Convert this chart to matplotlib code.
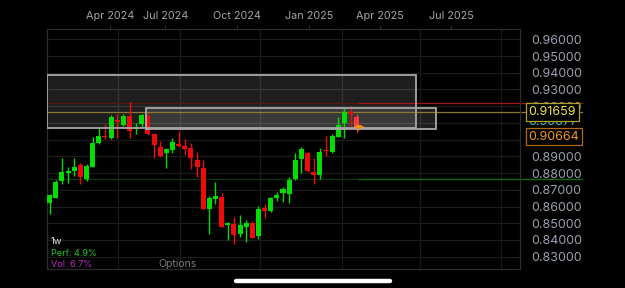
import matplotlib
matplotlib.use("Agg")
import matplotlib.pyplot as plt
from matplotlib.patches import Rectangle
from matplotlib.lines import Line2D

# ---------------- data ----------------
opens = [0.86228, 0.86527, 0.87544, 0.88023, 0.88103, 0.88462, 0.87664, 0.88382, 0.89817, 0.90216,
         0.90117, 0.91193, 0.90894, 0.91413, 0.90615, 0.90954, 0.91433, 0.90336, 0.89538, 0.89219,
         0.89379, 0.89738, 0.89638, 0.89478, 0.88781, 0.88322, 0.85869, 0.86468, 0.86547, 0.84892,
         0.84932, 0.84334, 0.84792, 0.85012, 0.84214, 0.85929, 0.85750, 0.86507, 0.86826, 0.86767,
         0.87624, 0.88840, 0.89199, 0.88083, 0.87883, 0.89379, 0.89259, 0.90176, 0.90974, 0.91672,
         0.91333]
highs = [0.86727, 0.87585, 0.88880, 0.88382, 0.88920, 0.88581, 0.88541, 0.90176, 0.90735, 0.90934,
         0.91472, 0.91532, 0.91532, 0.92250, 0.90974, 0.91532, 0.91572, 0.90376, 0.89937, 0.89478,
         0.90117, 0.90515, 0.90017, 0.89778, 0.89239, 0.88781, 0.86627, 0.87485, 0.86787, 0.85092,
         0.85391, 0.85490, 0.85191, 0.85152, 0.86049, 0.86148, 0.86587, 0.86886, 0.87185, 0.87784,
         0.89179, 0.89578, 0.89279, 0.88880, 0.89478, 0.90236, 0.90316, 0.91373, 0.91871, 0.92011,
         0.91532]
lows = [0.85550, 0.86527, 0.87325, 0.87425, 0.87824, 0.87325, 0.87505, 0.88342, 0.89738, 0.90037,
        0.90017, 0.90117, 0.90834, 0.90117, 0.90336, 0.90775, 0.90276, 0.88880, 0.88980, 0.88282,
        0.89179, 0.89538, 0.89080, 0.88222, 0.87784, 0.85829, 0.84354, 0.86148, 0.84753, 0.83995,
        0.83756, 0.84194, 0.83895, 0.84095, 0.84035, 0.85331, 0.85690, 0.86348, 0.86288, 0.86188,
        0.87584, 0.87983, 0.88083, 0.87345, 0.87624, 0.89020, 0.89179, 0.90137, 0.90117, 0.90814,
        0.90476]
closes = [0.86687, 0.87485, 0.88043, 0.88123, 0.88362, 0.87784, 0.88402, 0.89778, 0.90216, 0.90137,
          0.91353, 0.91034, 0.91433, 0.90535, 0.90675, 0.91472, 0.90316, 0.89678, 0.89040, 0.89419,
          0.89877, 0.89618, 0.89458, 0.88920, 0.88382, 0.85829, 0.86527, 0.86627, 0.84792, 0.84992,
          0.84294, 0.84872, 0.85032, 0.84135, 0.85849, 0.85750, 0.86488, 0.86687, 0.87026, 0.87584,
          0.88781, 0.89439, 0.88123, 0.87883, 0.89279, 0.89319, 0.90216, 0.90874, 0.91672, 0.91512,
          0.90664]

x_tick_pos = [9.8, 18.8, 30.5, 42.2, 53.8, 65.4]
x_tick_labels = ["Apr 2024", "Jul 2024", "Oct 2024", "Jan 2025", "Apr 2025", "Jul 2025"]
x_grid_pos = [11.1, 21.2, 34.3, 47.6, 60.3, 73.5]
y_ticks = [0.83, 0.84, 0.85, 0.86, 0.87, 0.88, 0.89, 0.90, 0.91, 0.92, 0.93, 0.94, 0.95, 0.96]
# tick labels fully hidden behind the price tags in the reference
y_hidden = [0.90, 0.91]

# zones: (x_start, x_end, low, high)
zones = [(-0.44, 59.7, 0.90677, 0.93865),
         (15.7, 62.9, 0.9062, 0.91873)]
red_level = 0.9221
yellow_level = 0.91659
green_level = 0.87645
cyan_level = 0.90677
last_price = 0.90664

interval = "1w"
perf_text = "Perf: 4.9%"
vol_text = "Vol: 6.7%"

# ---------------- figure ----------------
W, H = 625, 288
fig = plt.figure(figsize=(W / 100, H / 100), dpi=100, facecolor="black")
ax = fig.add_axes([47 / W, 1 - 269 / H, 473 / W, 240 / H], facecolor="black")
XMIN, XMAX = -0.44, 76.6
YMIN, YMAX = 0.82262, 0.96616
ax.set_xlim(XMIN, XMAX)
ax.set_ylim(YMIN, YMAX)

FONT = ["Inter", "DejaVu Sans"]

# grid
for yv in y_ticks:
    ax.axhline(yv, color="#1c1c1c", lw=0.9, zorder=0)
for xv in x_grid_pos:
    ax.axvline(xv, color="#1a1a1a", lw=0.9, zorder=0)

for sp in ax.spines.values():
    sp.set_color("#2c2c2c")
    sp.set_linewidth(0.9)

# zones
for (x0, x1, lo, hi) in zones:
    ax.add_patch(Rectangle((x0, lo), x1 - x0, hi - lo, facecolor="white", alpha=0.12,
                           edgecolor="none", zorder=1))
    ax.add_patch(Rectangle((x0, lo), x1 - x0, hi - lo, facecolor="none",
                           edgecolor="#a8a8a8", lw=1.3, zorder=4))

# horizontal levels
last_i = len(closes) - 1
x_line_end = 86.7
ax.plot([XMIN, last_i + 0.4], [red_level] * 2, color="#5a1414", lw=0.9, zorder=2)
ax.plot([last_i + 0.4, x_line_end], [red_level] * 2, color="#a01818", lw=0.9, zorder=2, clip_on=False)
ax.plot([XMIN, x_line_end], [yellow_level] * 2, color="#8a7a30", lw=0.9, zorder=2, clip_on=False)
ax.plot([XMIN, last_i + 0.4], [green_level] * 2, color="#0c3a0c", lw=0.9, zorder=2)
ax.plot([last_i + 0.4, x_line_end], [green_level] * 2, color="#0c6a0c", lw=1.0, zorder=2, clip_on=False)

# candles
G, R = "#00dd00", "#f00a0a"
for i, (o, h, l, c) in enumerate(zip(opens, highs, lows, closes)):
    col = G if c >= o else R
    if i == last_i:
        col = "#ff3a3a"
    ax.vlines(i, l, h, color=col, lw=1.0, zorder=3)
    body = max(abs(c - o), 0.0004)
    ax.bar(i, body, bottom=min(o, c), width=0.82, color=col, edgecolor="none", zorder=3)

# current price marker
ax.plot([last_i + 0.35], [last_price + 0.0002], marker="v", ms=5, color="#f09010",
        markeredgewidth=0, zorder=6)
ax.plot([last_i - 0.3, last_i + 1.0], [last_price + 0.0008] * 2, color="#f09010", lw=1.2, zorder=6)

# ticks
ax.xaxis.tick_top()
ax.set_xticks(x_tick_pos, x_tick_labels)
ax.tick_params(axis="x", which="major", length=3, color="#2e2e2e", pad=3,
               labelcolor="#a4a4a8", labelsize=7.8)
for t in ax.get_xticklabels():
    t.set_family(FONT)
ax.yaxis.tick_right()
ax.set_yticks(y_ticks, ["" if any(abs(v - h) < 1e-9 for h in y_hidden) else f"{v:.5f}"
                        for v in y_ticks])
ax.tick_params(axis="y", length=0, pad=8, labelcolor="#9aa0ab", labelsize=9)
for t in ax.get_yticklabels():
    t.set_family(FONT)

# price labels on the right axis
ytr = ax.get_yaxis_transform()
def price_tag(level, dy_pt, txt_col, edge_col, z):
    ax.annotate(f"{level:.5f}", xy=(1.018, level), xycoords=ytr,
                xytext=(0, dy_pt), textcoords="offset points",
                ha="left", va="center", fontsize=9, family=FONT, color=txt_col,
                annotation_clip=False, zorder=z,
                bbox=dict(boxstyle="square,pad=0.22", fc="black", ec=edge_col, lw=0.9))

price_tag(cyan_level, 4.6, "#3cc4d6", "none", 7)
price_tag(yellow_level, 0, "#f0e040", "#b0a020", 8)
price_tag(last_price, -5.9, "#f29418", "#b06a10", 8)

# bottom-left info
fig.text(51 / W, 1 - 242 / H, interval, color="#e8e8e8", fontsize=6.8, family=FONT, va="center")
fig.text(51 / W, 1 - 253.3 / H, perf_text, color="#22c822", fontsize=6.5, family=FONT, va="center")
fig.text(51 / W, 1 - 264.3 / H, vol_text, color="#c428c4", fontsize=6.5, family=FONT, va="center")
fig.text(177.7 / W, 1 - 264.3 / H, "Options", color="#7c7c7c", fontsize=7.5, family=FONT,
         va="center", ha="center")

# home indicator
fig.add_artist(Line2D([236 / W, 390 / W], [1 - 281 / H] * 2, color="white", lw=3.2,
                      solid_capstyle="round", transform=fig.transFigure))

fig.savefig("out.png", dpi=100, facecolor="black")
